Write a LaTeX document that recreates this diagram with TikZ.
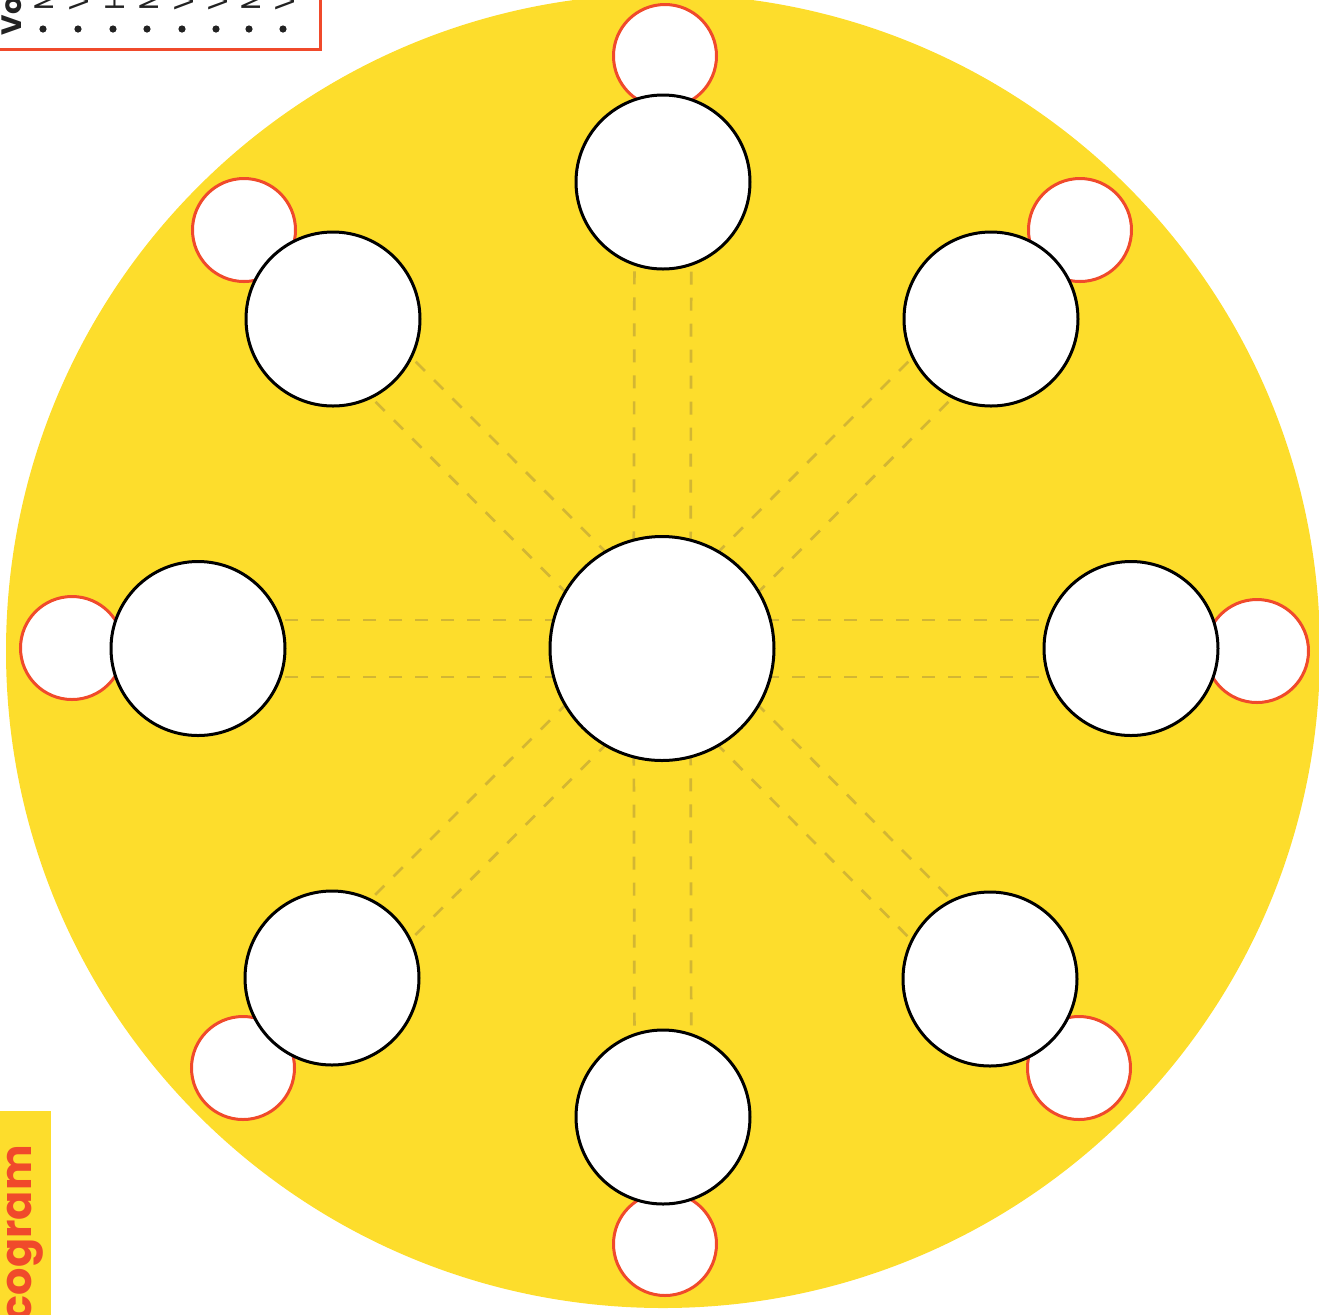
\documentclass[tikz,border=0pt]{standalone}
\usepackage{fontspec}
\newfontfamily\pop{Poppins}
\usetikzlibrary{calc}
\definecolor{sunyellow}{HTML}{FDDD2C}
\definecolor{redorange}{HTML}{F04A2B}
\definecolor{dashcol}{HTML}{D3B633}
\definecolor{inkgray}{HTML}{222222}
\pgfdeclarelayer{back}
\pgfdeclarelayer{mid}
\pgfsetlayers{back,mid,main}
\begin{document}
\begin{tikzpicture}[x=0.5pt,y=-0.5pt,
  bigc/.style={circle, draw=black, line width=1.5pt, fill=white, minimum size=87pt, inner sep=0pt},
  smallc/.style={circle, draw=redorange, line width=1.5pt, fill=white, minimum size=51.5pt, inner sep=0pt},
  hubc/.style={circle, draw=black, line width=1.5pt, fill=white, minimum size=112pt, inner sep=0pt},
  spoke/.style={draw=dashcol, line width=1.35pt, dash pattern=on 6.5pt off 6.5pt},
  dotb/.style={circle, fill=inkgray, minimum size=3.6pt, inner sep=0pt},
  itemtxt/.style={rotate=90, anchor=base west, inner sep=0pt, text=inkgray, font=\pop\fontsize{13.5pt}{15pt}\selectfont}
]
\useasboundingbox (0,0) rectangle (1319,1314);

% yellow disc
\begin{pgfonlayer}{back}
\node[circle, fill=sunyellow, minimum size=657pt, inner sep=0pt] (disc) at (663,651) {};
\end{pgfonlayer}

% small red circles (behind big ones)
\node[smallc] (sN)  at (665,56) {};
\node[smallc] (sNE) at (1080,230) {};
\node[smallc] (sE)  at (1257,651) {};
\node[smallc] (sSE) at (1079,1068) {};
\node[smallc] (sS)  at (665,1244) {};
\node[smallc] (sSW) at (243,1068) {};
\node[smallc] (sW)  at (72,648) {};
\node[smallc] (sNW) at (244,230) {};

% big circles
\node[hubc] (hub) at (662,648.5) {};
\node[bigc] (bN)  at (663,182) {};
\node[bigc] (bNE) at (991,319) {};
\node[bigc] (bE)  at (1131,648.5) {};
\node[bigc] (bSE) at (990,979) {};
\node[bigc] (bS)  at (663,1117) {};
\node[bigc] (bSW) at (332,978) {};
\node[bigc] (bW)  at (198,648.5) {};
\node[bigc] (bNW) at (333,319) {};

% dashed spokes
\begin{pgfonlayer}{mid}
\foreach \s in {N,NE,E,SE,S,SW,W,NW}{
  \draw[spoke] ($(hub)!14.2pt!90:(b\s)$) -- ($(b\s)!14.2pt!-90:(hub)$);
  \draw[spoke] ($(hub)!14.2pt!-90:(b\s)$) -- ($(b\s)!14.2pt!90:(hub)$);
}
\end{pgfonlayer}

% top-left box
\node[draw=redorange, line width=1.5pt, fill=white, anchor=south east, minimum width=170pt, minimum height=40pt, inner sep=0pt] (box) at (321.5,50.5) {};
\node[rotate=90, anchor=base west, inner sep=0pt, text=inkgray, font=\pop\bfseries\fontsize{14pt}{16pt}\selectfont] (title) at (21.5,35.5) {Vo};
\node[dotb] (d1) at (43,29) {};
\node[dotb] (d2) at (78,29) {};
\node[dotb] (d3) at (113,29) {};
\node[dotb] (d4) at (147,29) {};
\node[dotb] (d5) at (182,29) {};
\node[dotb] (d6) at (216,29) {};
\node[dotb] (d7) at (249,29) {};
\node[dotb] (d8) at (283,29) {};
\node[itemtxt] (t1) at (54,11) {M};
\node[itemtxt] (t2) at (89,11) {V};
\node[itemtxt] (t3) at (124,11) {H};
\node[itemtxt] (t4) at (158,11) {M};
\node[itemtxt] (t5) at (193,11) {V};
\node[itemtxt] (t6) at (227,11) {V};
\node[itemtxt] (t7) at (260,11) {M};
\node[itemtxt] (t8) at (294,11) {V};

% bottom-left tab
\node[fill=sunyellow, anchor=north west, minimum width=25.5pt, minimum height=110pt, inner sep=0pt] (tab) at (0,1111) {};
\node[rotate=90, anchor=base east, inner sep=0pt, text=redorange, font=\pop\bfseries\fontsize{21.5pt}{24pt}\selectfont] (tabtxt) at (32,1145) {cogram};
\end{tikzpicture}
\end{document}
